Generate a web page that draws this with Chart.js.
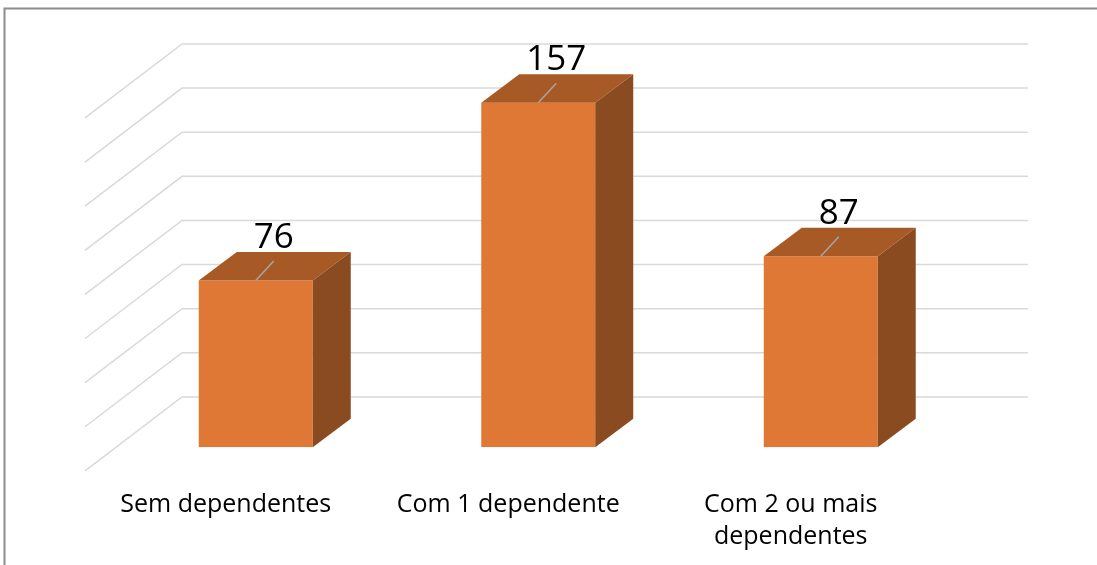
<!DOCTYPE html>
<html>
<head>
<meta charset="utf-8">
<script src="https://cdn.jsdelivr.net/npm/chart.js@4.4.1/dist/chart.umd.min.js"></script>
<style>
  html, body { margin: 0; padding: 0; background: #fff; }
  #wrap { width: 1097px; height: 565px; }
</style>
</head>
<body>
<div id="wrap"><canvas id="barras" width="1097" height="565"></canvas></div>
<script>
// dados
const categorias = ["Sem dependentes", "Com 1 dependente", ["Com 2 ou mais", "dependentes"]];
const valores = [76, 157, 87];
const linhasY = [20, 40, 60, 80, 100, 120, 140, 160, 180];

// profundidade das barras 3D
const DX = 38, DY = -28.5;

const cubo = {
  id: "cubo",
  beforeDraw(chart) {
    const c = chart.ctx;
    c.save();
    c.strokeStyle = "#8c8c8c";
    c.lineWidth = 2;
    c.strokeRect(4.5, 8.5, 1300, 800);
    c.restore();
  },
  beforeDatasetsDraw(chart) {
    // parede do fundo + parede lateral
    const c = chart.ctx, y = chart.scales.y, a = chart.chartArea;
    c.save();
    c.strokeStyle = "#d9d9d9";
    c.lineWidth = 1.5;
    linhasY.forEach((v) => {
      const yb = a.bottom - 6.3 - (a.bottom - y.getPixelForValue(v)) * 1.005;
      c.beginPath();
      c.moveTo(a.left - 29.5, yb + 74);
      c.lineTo(a.left + 67.5, yb);
      c.lineTo(a.right + 66, yb);
      c.stroke();
    });
    c.restore();
  },
  afterDatasetsDraw(chart) {
    const c = chart.ctx;
    const meta = chart.getDatasetMeta(0);
    meta.data.forEach((bar, i) => {
      const p = bar.getProps(["x", "y", "base", "width"], true);
      const l = p.x - p.width / 2, r = p.x + p.width / 2;
      c.save();
      // topo
      c.fillStyle = "#a85a26";
      c.beginPath();
      c.moveTo(l, p.y);
      c.lineTo(r, p.y);
      c.lineTo(r + DX, p.y + DY);
      c.lineTo(l + DX, p.y + DY);
      c.closePath();
      c.fill();
      // lado
      c.fillStyle = "#8b4b21";
      c.beginPath();
      c.moveTo(r, p.y);
      c.lineTo(r + DX, p.y + DY);
      c.lineTo(r + DX, p.base + DY);
      c.lineTo(r, p.base);
      c.closePath();
      c.fill();
      // linha de chamada
      c.strokeStyle = "#a6a6a6";
      c.lineWidth = 1.5;
      c.beginPath();
      c.moveTo(p.x, p.y);
      c.lineTo(p.x + 18, p.y + DY + 9);
      c.stroke();
      // rotulo
      c.fillStyle = "#000";
      c.font = "35px 'Open Sans'";
      c.textAlign = "center";
      c.textBaseline = "alphabetic";
      c.fillText(String(valores[i]), p.x + 18, p.y + DY - 4);
      c.restore();
    });
  }
};

new Chart(document.getElementById("barras"), {
  type: "bar",
  data: {
    labels: categorias,
    datasets: [{
      data: valores,
      backgroundColor: "#e07835",
      borderWidth: 0,
      barPercentage: 0.4035,
      categoryPercentage: 1
    }]
  },
  options: {
    responsive: false,
    animation: false,
    layout: { padding: { left: 114.5, right: 135, top: 52.2, bottom: 0 } },
    plugins: { legend: { display: false }, tooltip: { enabled: false } },
    scales: {
      x: {
        grid: { display: false, drawTicks: false },
        border: { display: false },
        ticks: {
          color: "#000",
          font: { family: "'Open Sans'", size: 25, lineHeight: "32px" },
          padding: 42,
          labelOffset: -30,
          maxRotation: 0,
          autoSkip: false
        },
        afterFit(s) { s.height = 117.7; }
      },
      y: { display: false, min: 0, max: 180 }
    }
  },
  plugins: [cubo]
});
</script>
</body>
</html>
